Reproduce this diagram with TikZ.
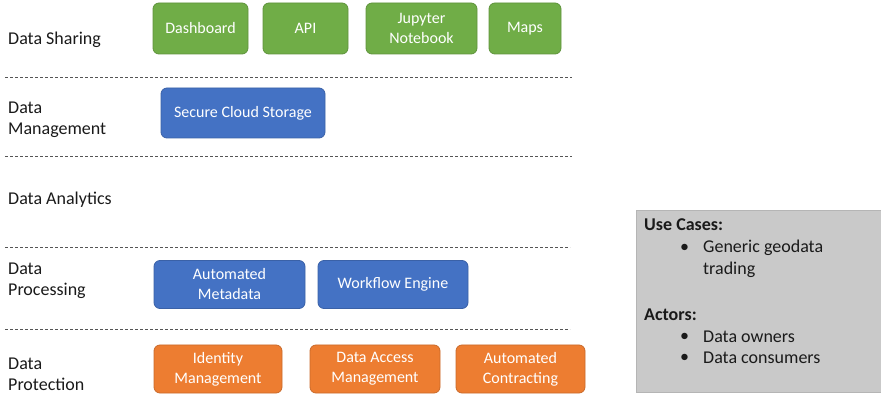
\documentclass[tikz,border=0pt]{standalone}
\usepackage{fontspec}
\setmainfont{Carlito}
\definecolor{sgreen}{HTML}{70AD47}
\definecolor{sblue}{HTML}{4472C4}
\definecolor{sorange}{HTML}{ED7D31}
\definecolor{sgray}{HTML}{C9C9C9}
\definecolor{sline}{HTML}{555555}
\definecolor{stext}{HTML}{1A1A1A}
\tikzset{
  layerbox/.style={rounded corners=6pt, text=white, align=center, inner sep=0pt,
    font=\fontsize{16}{20}\selectfont, line width=0.8pt},
  gbox/.style={layerbox, fill=sgreen, draw=sgreen!85!black},
  bbox/.style={layerbox, fill=sblue, draw=sblue!85!black},
  obox/.style={layerbox, fill=sorange, draw=sorange!85!black},
  layerlabel/.style={anchor=west, align=left, inner sep=0pt, text=stext,
    font=\fontsize{18}{21}\selectfont},
  sep/.style={draw=sline, line width=0.9pt, dash pattern=on 3pt off 2pt},
  boxtext/.style={anchor=west, inner sep=0pt, text=stext, font=\fontsize{18}{21}\selectfont}
}
\begin{document}
\begin{tikzpicture}[x=1pt,y=-1pt]
\useasboundingbox (0,0) rectangle (881,395);
% layer labels
\node[layerlabel] (lshare) at (8,40) {Data Sharing};
\node[layerlabel] (lmanage) at (8,120) {Data\\Management};
\node[layerlabel] (lanalytics) at (8,200) {Data Analytics};
\node[layerlabel] (lprocess) at (8,281) {Data\\Processing};
\node[layerlabel] (lprotect) at (8,374) {Data\\Protection};
% separators
\coordinate (s1a) at (5,77);  \coordinate (s1b) at (572,77);
\coordinate (s2a) at (5,156); \coordinate (s2b) at (572,156);
\coordinate (s3a) at (5,247); \coordinate (s3b) at (570,247);
\coordinate (s4a) at (5,329); \coordinate (s4b) at (570,329);
\draw[sep] (s1a) -- (s1b);
\draw[sep] (s2a) -- (s2b);
\draw[sep] (s3a) -- (s3b);
\draw[sep] (s4a) -- (s4b);
% data sharing
\node[gbox, minimum width=95pt, minimum height=51pt] (dash) at (200.5,28.5) {Dashboard};
\node[gbox, minimum width=85pt, minimum height=51pt] (api) at (305.5,28.5) {API};
\node[gbox, minimum width=111pt, minimum height=51pt] (jup) at (421.5,28.5) {Jupyter\\Notebook};
\node[gbox, minimum width=72pt, minimum height=51pt] (maps) at (525,28.5) {Maps};
% data management
\node[bbox, minimum width=164pt, minimum height=50pt] (scs) at (243,113) {Secure Cloud Storage};
% data processing
\node[bbox, minimum width=151pt, minimum height=48pt] (meta) at (229.5,284.5) {Automated\\Metadata};
\node[bbox, minimum width=150pt, minimum height=48pt] (wf) at (393,284.5) {Workflow Engine};
% data protection
\node[obox, minimum width=128pt, minimum height=48pt] (idm) at (218,369) {Identity\\Management};
\node[obox, minimum width=130pt, minimum height=48pt] (dam) at (375,369) {Data Access\\Management};
\node[obox, minimum width=129pt, minimum height=48pt] (ac) at (520.5,369) {Automated\\Contracting};
% info box
\node[fill=sgray, draw=sgray!90!black, line width=0.6pt, inner sep=0pt,
  minimum width=245pt, minimum height=182pt] (info) at (758.5,301) {};
\node[boxtext, font=\fontsize{18}{21}\selectfont\bfseries] (uc) at (644,225) {Use Cases:};
\node[boxtext] (b1) at (680,248) {•};
\node[boxtext] (t1) at (703,248) {Generic geodata};
\node[boxtext] (t1b) at (703,270) {trading};
\node[boxtext, font=\fontsize{18}{21}\selectfont\bfseries] (act) at (644,315) {Actors:};
\node[boxtext] (b2) at (680,337) {•};
\node[boxtext] (t2) at (703,337) {Data owners};
\node[boxtext] (b3) at (680,358) {•};
\node[boxtext] (t3) at (703,358) {Data consumers};
\end{tikzpicture}
\end{document}
